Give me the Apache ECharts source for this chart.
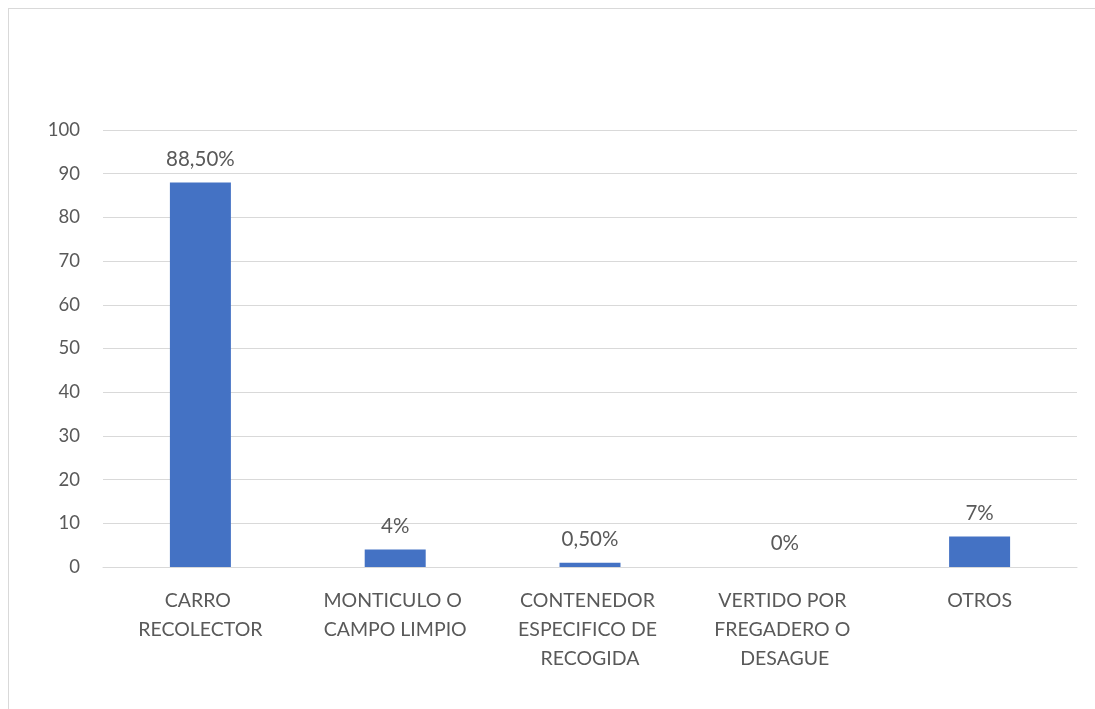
<!DOCTYPE html>
<html>
<head>
<meta charset="utf-8">
<script src="https://cdn.jsdelivr.net/npm/echarts@6/dist/echarts.min.js"></script>
<style>
  html, body { margin: 0; padding: 0; background: #fff; overflow: hidden; }
  .chart-frame {
    position: absolute;
    left: 8px;
    top: 8px;
    width: 1100px;
    height: 710px;
    border: 1px solid #d9d9d9;
    box-sizing: border-box;
  }
  #chart { position: absolute; left: 0; top: 0; width: 1095px; height: 709px; }
</style>
</head>
<body>
<div class="chart-frame"></div>
<div id="chart"></div>
<script>
// 数据
const categories = [
  'CARRO RECOLECTOR',
  'MONTICULO O CAMPO LIMPIO',
  'CONTENEDOR ESPECIFICO DE RECOGIDA',
  'VERTIDO POR FREGADERO O DESAGUE',
  'OTROS',
]
const values = [88, 4, 1, 0, 7]
const valueLabels = ['88,50%', '4%', '0,50%', '0%', '7%']
const yTicks = [0, 10, 20, 30, 40, 50, 60, 70, 80, 90, 100]

const TEXT = {
  fontFamily: 'Lato',
  color: '#595959',
}

const myChart = echarts.init(document.getElementById('chart'))

const option = {
  animation: false,
  grid: {
    top: 130,
    left: 103,
    right: 18,
    bottom: 142,
  },
  xAxis: {
    type: 'category',
    data: categories,
    axisTick: { show: false },
    axisLine: {
      show: true,
      lineStyle: { color: '#d9d9d9', width: 1 },
    },
    axisLabel: {
      ...TEXT,
      fontSize: 19.5,
      interval: 0,
      margin: 19,
      lineHeight: 29,
      width: 155,
      overflow: 'break',
      verticalAlign: 'top',
    },
  },
  yAxis: {
    type: 'value',
    min: yTicks[0],
    max: yTicks[yTicks.length - 1],
    interval: 10,
    axisLine: { show: false },
    axisTick: { show: false },
    splitLine: {
      lineStyle: { color: '#d9d9d9', width: 1 },
    },
    axisLabel: {
      ...TEXT,
      fontSize: 18.5,
      margin: 23,
    },
  },
  series: [
    {
      type: 'bar',
      data: values,
      barWidth: 61,
      itemStyle: { color: '#4472c4' },
      label: {
        show: true,
        position: 'top',
        distance: 13,
        ...TEXT,
        fontSize: 20.5,
        formatter: ({ dataIndex }) => valueLabels[dataIndex],
      },
    },
  ],
}

myChart.setOption(option)
</script>
</body>
</html>
